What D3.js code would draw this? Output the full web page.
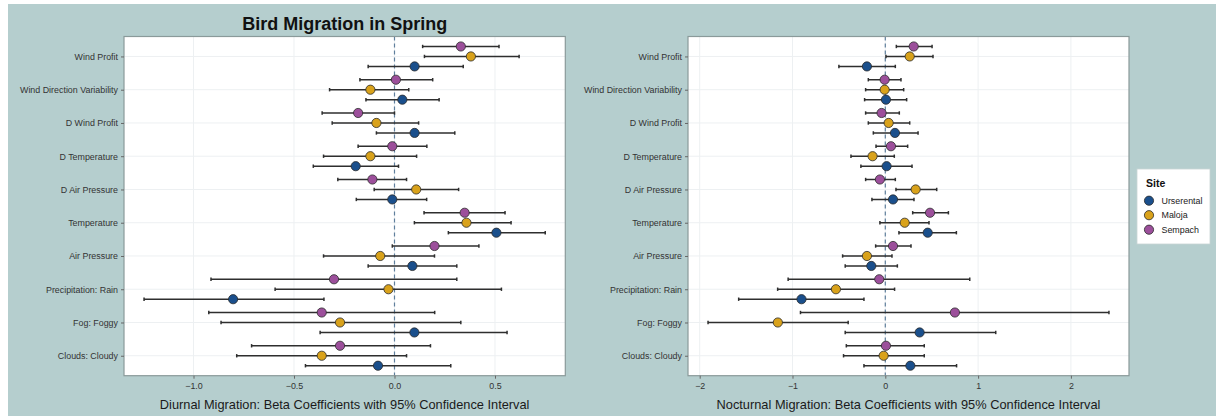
<!DOCTYPE html>
<html>
<head>
<meta charset="utf-8">
<script src="https://cdn.jsdelivr.net/npm/d3@7"></script>
<style>
  html, body { margin: 0; padding: 0; background: #ffffff; }
  svg { display: block; }
  text { font-family: "Liberation Sans", Arial, Helvetica, sans-serif; }
</style>
</head>
<body>
<svg id="chart" width="1216" height="416"></svg>
<script>
// Predictors, top to bottom
const categories = [
  "Wind Profit", "Wind Direction Variability", "D Wind Profit", "D Temperature",
  "D Air Pressure", "Temperature", "Air Pressure", "Precipitation: Rain",
  "Fog: Foggy", "Clouds: Cloudy"
];
const sites = ["Urserental", "Maloja", "Sempach"];
const siteColors = ["#1a4f8c", "#d9a21b", "#9c4f9b"];

// Diurnal migration: beta estimates with 95% CI bounds
const diurnalUrserentalEst = [0.10, 0.039, 0.10, -0.193, -0.011, 0.507, 0.089, -0.803, 0.099, -0.082];
const diurnalUrserentalLo  = [-0.131, -0.142, -0.09, -0.404, -0.19, 0.268, -0.131, -1.246, -0.37, -0.443];
const diurnalUrserentalHi  = [0.342, 0.222, 0.30, 0.02, 0.16, 0.75, 0.31, -0.351, 0.56, 0.28];
const diurnalMalojaEst = [0.38, -0.12, -0.09, -0.12, 0.108, 0.358, -0.071, -0.03, -0.271, -0.362];
const diurnalMalojaLo  = [0.149, -0.323, -0.31, -0.353, -0.101, 0.099, -0.353, -0.594, -0.863, -0.785];
const diurnalMalojaHi  = [0.62, 0.071, 0.12, 0.11, 0.319, 0.58, 0.199, 0.532, 0.33, 0.06];
const diurnalSempachEst = [0.33, 0.007, -0.181, -0.011, -0.11, 0.349, 0.199, -0.301, -0.362, -0.271];
const diurnalSempachLo  = [0.14, -0.172, -0.36, -0.181, -0.282, 0.147, -0.011, -0.913, -0.924, -0.711];
const diurnalSempachHi  = [0.52, 0.19, 0.0, 0.161, 0.06, 0.55, 0.42, 0.31, 0.2, 0.179];

// Nocturnal migration: beta estimates with 95% CI bounds
const nocturnalUrserentalEst = [-0.198, 0.007, 0.104, 0.014, 0.083, 0.457, -0.151, -0.903, 0.37, 0.27];
const nocturnalUrserentalLo  = [-0.5, -0.223, -0.129, -0.263, -0.144, 0.147, -0.432, -1.58, -0.432, -0.23];
const nocturnalUrserentalHi  = [0.108, 0.23, 0.353, 0.288, 0.309, 0.766, 0.13, -0.23, 1.19, 0.768];
const nocturnalMalojaEst = [0.263, -0.007, 0.036, -0.137, 0.327, 0.209, -0.198, -0.532, -1.158, -0.018];
const nocturnalMalojaLo  = [0.007, -0.212, -0.183, -0.37, 0.115, -0.058, -0.46, -1.16, -1.91, -0.45];
const nocturnalMalojaHi  = [0.514, 0.198, 0.263, 0.097, 0.554, 0.471, 0.072, 0.1, -0.4, 0.42];
const nocturnalSempachEst = [0.306, -0.007, -0.04, 0.061, -0.058, 0.482, 0.083, -0.065, 0.75, 0.007];
const nocturnalSempachLo  = [0.119, -0.183, -0.212, -0.1, -0.212, 0.295, -0.104, -1.047, -0.914, -0.42];
const nocturnalSempachHi  = [0.504, 0.169, 0.151, 0.241, 0.108, 0.68, 0.277, 0.91, 2.41, 0.42];

// Axis ticks
const diurnalTicks = [-1, -0.5, 0, 0.5];
const nocturnalTicks = [-2, -1, 0, 1, 2];

const chartTitle = "Bird Migration in Spring";
const diurnalTitle = "Diurnal Migration: Beta Coefficients with 95% Confidence Interval";
const nocturnalTitle = "Nocturnal Migration: Beta Coefficients with 95% Confidence Interval";
const legendTitle = "Site";

// ---- build long-format rows for each panel ----
function rows(est, lo, hi) {
  const out = [];
  sites.forEach((s, si) => {
    categories.forEach((c, ci) => {
      out.push({ site: s, category: c, est: est[si][ci], lo: lo[si][ci], hi: hi[si][ci] });
    });
  });
  return out;
}
const diurnalRows = rows(
  [diurnalUrserentalEst, diurnalMalojaEst, diurnalSempachEst],
  [diurnalUrserentalLo, diurnalMalojaLo, diurnalSempachLo],
  [diurnalUrserentalHi, diurnalMalojaHi, diurnalSempachHi]);
const nocturnalRows = rows(
  [nocturnalUrserentalEst, nocturnalMalojaEst, nocturnalSempachEst],
  [nocturnalUrserentalLo, nocturnalMalojaLo, nocturnalSempachLo],
  [nocturnalUrserentalHi, nocturnalMalojaHi, nocturnalSempachHi]);

const svg = d3.select("#chart");
const color = d3.scaleOrdinal().domain(sites).range(siteColors);

// page background
svg.append("rect").attr("x", 8).attr("y", 4).attr("width", 1208).attr("height", 412)
  .attr("fill", "#b5cece");

const plotTop = 36.5, plotBottom = 375.7;

function panel(data, x0, x1, ticks, fmt, title) {
  const g = svg.append("g");
  const [mn, mx] = [d3.min(data, d => d.lo), d3.max(data, d => d.hi)];
  const pad = (mx - mn) * 0.05;
  const x = d3.scaleLinear().domain([mn - pad, mx + pad]).range([x0, x1]);
  const y = d3.scalePoint().domain(categories).range([plotTop, plotBottom]).padding(0.6);
  const step = y.step();
  const dodge = d3.scalePoint().domain(["Sempach", "Maloja", "Urserental"])
    .range([-0.3 * step, 0.3 * step]);

  g.append("rect").attr("x", x0).attr("y", plotTop).attr("width", x1 - x0).attr("height", plotBottom - plotTop)
    .attr("fill", "#ffffff");

  // grid
  g.append("g").selectAll("line").data(ticks).join("line")
    .attr("x1", d => x(d)).attr("x2", d => x(d)).attr("y1", plotTop).attr("y2", plotBottom)
    .attr("stroke", "#edf0f2").attr("stroke-width", 1);
  g.append("g").selectAll("line").data(categories).join("line")
    .attr("x1", x0).attr("x2", x1).attr("y1", d => y(d)).attr("y2", d => y(d))
    .attr("stroke", "#edf0f2").attr("stroke-width", 1);

  // zero reference
  g.append("line").attr("x1", x(0)).attr("x2", x(0)).attr("y1", plotTop).attr("y2", plotBottom)
    .attr("stroke", "#5f7f9c").attr("stroke-width", 1.2).attr("stroke-dasharray", "4,3");

  // confidence intervals
  const bars = g.append("g").selectAll("g").data(data).join("g")
    .attr("transform", d => `translate(0,${y(d.category) + dodge(d.site)})`)
    .attr("stroke", "#2e2e2e").attr("stroke-width", 1.5);
  bars.append("line").attr("x1", d => x(d.lo)).attr("x2", d => x(d.hi));
  bars.append("line").attr("x1", d => x(d.lo)).attr("x2", d => x(d.lo)).attr("y1", -1.7).attr("y2", 1.7);
  bars.append("line").attr("x1", d => x(d.hi)).attr("x2", d => x(d.hi)).attr("y1", -1.7).attr("y2", 1.7);

  // estimates
  g.append("g").selectAll("circle").data(data).join("circle")
    .attr("cx", d => x(d.est)).attr("cy", d => y(d.category) + dodge(d.site))
    .attr("r", 4.6).attr("fill", d => color(d.site))
    .attr("stroke", "#2a2a2a").attr("stroke-width", 0.8);

  // border
  g.append("rect").attr("x", x0).attr("y", plotTop).attr("width", x1 - x0).attr("height", plotBottom - plotTop)
    .attr("fill", "none").attr("stroke", "#8a9a9a").attr("stroke-width", 1.2);

  // axes
  const xa = g.append("g").attr("transform", `translate(0,${plotBottom})`)
    .call(d3.axisBottom(x).tickValues(ticks).tickFormat(fmt).tickSize(3).tickPadding(4));
  const ya = g.append("g").attr("transform", `translate(${x0},0)`)
    .call(d3.axisLeft(y).tickSize(3).tickPadding(3));
  [xa, ya].forEach(a => {
    a.select(".domain").remove();
    a.selectAll(".tick line").attr("stroke", "#666");
    a.selectAll(".tick text").attr("fill", "#333").attr("font-size", "8.9px")
      .attr("font-family", "'Liberation Sans', Arial, Helvetica, sans-serif");
  });

  g.append("text").attr("x", (x0 + x1) / 2).attr("y", 409).attr("text-anchor", "middle")
    .attr("font-size", "12.8px").attr("fill", "#1a1a1a").text(title);
}

panel(diurnalRows, 124, 565.3, diurnalTicks, d3.format(".1f"), diurnalTitle);
panel(nocturnalRows, 688, 1129, nocturnalTicks, d3.format("d"), nocturnalTitle);

svg.append("text").attr("x", 344.7).attr("y", 30).attr("text-anchor", "middle")
  .attr("font-size", "18px").attr("font-weight", "bold").attr("fill", "#111").text(chartTitle);

// legend
const lg = svg.append("g");
lg.append("rect").attr("x", 1137).attr("y", 169).attr("width", 73).attr("height", 75)
  .attr("fill", "#ffffff").attr("stroke", "#c8d4d4").attr("stroke-width", 0.8);
lg.append("text").attr("x", 1146).attr("y", 186.5).attr("font-size", "10.5px")
  .attr("font-weight", "bold").attr("fill", "#111").text(legendTitle);
const items = lg.selectAll("g.item").data(sites).join("g")
  .attr("transform", (d, i) => `translate(1149,${200.7 + i * 14.5})`);
items.append("circle").attr("r", 4.6).attr("fill", d => color(d))
  .attr("stroke", "#2a2a2a").attr("stroke-width", 0.8);
items.append("text").attr("x", 12.5).attr("dy", "0.35em").attr("font-size", "8.9px")
  .attr("fill", "#222").text(d => d);
</script>
</body>
</html>
